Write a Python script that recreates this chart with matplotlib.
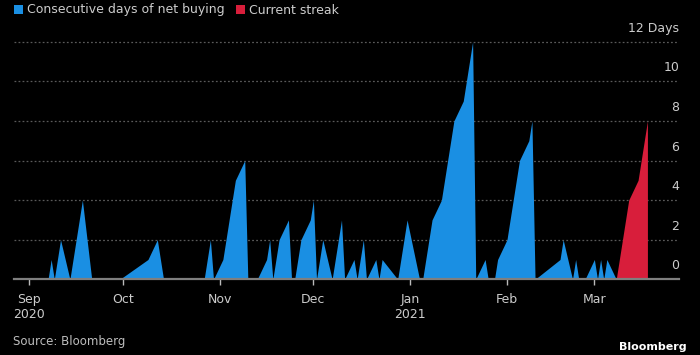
import matplotlib
matplotlib.use("Agg")
import matplotlib.pyplot as plt
from matplotlib.patches import Patch
from matplotlib.transforms import ScaledTranslation, blended_transform_factory
import pandas as pd

# ---------------- data ----------------
closed_days = ["2020-10-01", "2020-10-02", "2020-10-05", "2020-10-06", "2020-10-07",
               "2020-10-08", "2020-10-13", "2020-10-26", "2020-12-24", "2020-12-25",
               "2021-01-01", "2021-02-11", "2021-02-12", "2021-02-15", "2021-02-16",
               "2021-02-17"]

# consecutive days of net buying, one value per trading day (2020-08-27 .. 2021-03-08)
vals_aug = [0, 0, 0]
vals_sep = [0, 0, 0, 0, 0, 1, 0, 1, 2, 0, 1, 2, 3, 4, 0, 0, 0, 0, 0, 0, 0, 0]
vals_oct = [1, 2, 0, 0, 0, 0, 0, 0, 0, 0, 0, 1, 2, 0]
vals_nov = [1, 2, 3, 4, 5, 6, 0, 0, 0, 0, 1, 2, 0, 1, 2, 3, 0, 0, 1, 2, 3]
vals_dec = [4, 0, 1, 2, 0, 1, 2, 3, 0, 1, 0, 1, 2, 0, 1, 0, 1, 0, 1, 2, 3]
vals_jan = [0, 0, 1, 2, 3, 4, 5, 6, 7, 8, 9, 10, 11, 12, 0, 1, 0, 0, 0, 1]
vals_feb = [2, 3, 4, 5, 6, 7, 8, 0, 1, 2, 0, 1, 0, 0, 0]
vals_mar = [1, 0, 1, 0, 1, 0]
blue_values = vals_aug + vals_sep + vals_oct + vals_nov + vals_dec + vals_jan + vals_feb + vals_mar

# current streak (2021-03-08 .. 2021-03-18)
red_values = [0, 1, 2, 3, 4, 5, 6, 7, 8]

month_ticks = ["2020-09-01", "2020-10-01", "2020-11-01", "2020-12-01",
               "2021-01-01", "2021-02-01", "2021-03-01"]
month_labels = ["Sep\n2020", "Oct", "Nov", "Dec", "Jan\n2021", "Feb", "Mar"]
y_ticks = [0, 2, 4, 6, 8, 10, 12]
y_labels = ["0", "2", "4", "6", "8", "10", "12 Days"]
legend_labels = ["Consecutive days of net buying", "Current streak"]

# ---------------- dates ----------------
trading = pd.bdate_range("2020-08-27", "2021-03-18").difference(pd.to_datetime(closed_days))
blue_dates = trading[trading <= pd.Timestamp("2021-03-08")]
red_dates = trading[trading >= pd.Timestamp("2021-03-08")]
assert len(blue_dates) == len(blue_values), (len(blue_dates), len(blue_values))
assert len(red_dates) == len(red_values)

# ---------------- style ----------------
BLUE = "#1a8fe3"
RED = "#d81e3b"
TXT = "#cccccc"
plt.rcParams["font.family"] = ["DejaVu Sans"]
plt.rcParams["lines.scale_dashes"] = False

W, H = 700, 355
fig = plt.figure(figsize=(7, 3.55), dpi=100, facecolor="black")
px_unit = (279.3 - 41.7) / 12.0
ax = fig.add_axes([13.7 / W, (H - 279.3) / H, (679.3 - 13.7) / W, 12.5 * px_unit / H])
ax.set_facecolor("black")

ax.fill_between(blue_dates, blue_values, 0, color=BLUE, lw=0, zorder=2)
ax.fill_between(red_dates, red_values, 0, color=RED, lw=0, zorder=2)

ax.set_ylim(0, 12.5)
ax.set_xlim(pd.Timestamp("2020-08-27"), pd.Timestamp("2021-03-28 05:00"))

for s in ax.spines.values():
    s.set_visible(False)

ax.set_axisbelow(True)
ax.set_yticks(y_ticks[1:])
ax.tick_params(axis="y", length=0, labelleft=False, labelright=False)
ax.yaxis.grid(True, color="#5a5a5a", linewidth=0.9, linestyle=(0, (1.3, 1.6)))
ax.axhline(0, color="#7f7f7f", lw=1.6, zorder=3, clip_on=False)

ax.set_xticks(pd.to_datetime(month_ticks))
ax.set_xticklabels(month_labels, linespacing=1.2)
ax.tick_params(axis="x", direction="out", length=4, width=1, color="#bbbbbb",
               labelcolor=TXT, labelsize=9, pad=5.8)

# y labels sit just above their gridlines, inside the plot on the right
trans = blended_transform_factory(ax.transAxes, ax.transData) + \
    ScaledTranslation(0, 13.4 / 100, fig.dpi_scale_trans)
for v, lab in zip(y_ticks, y_labels):
    ax.text(1.0, v, lab, transform=trans, ha="right", va="center",
            fontsize=9, color=TXT)

# legend
handles = [Patch(facecolor=BLUE, edgecolor="none"), Patch(facecolor=RED, edgecolor="none")]
fig.legend(handles, legend_labels, loc="upper left", bbox_to_anchor=(13.5 / W, 1 - 3.5 / H),
           ncol=2, frameon=False, handlelength=0.72, handleheight=0.72,
           handletextpad=0.36, columnspacing=0.9, borderpad=0, borderaxespad=0,
           fontsize=9, labelcolor=TXT)

fig.text(13.4 / W, 1 - 341.7 / H, "Source: Bloomberg", ha="left", va="center",
         fontsize=8.5, color="#bdbdbd")
fig.text(687 / W, 1 - 346.5 / H, "Bloomberg", ha="right", va="center",
         fontsize=8, fontweight="bold", color="white")

fig.savefig("out.png", dpi=100, facecolor="black")
